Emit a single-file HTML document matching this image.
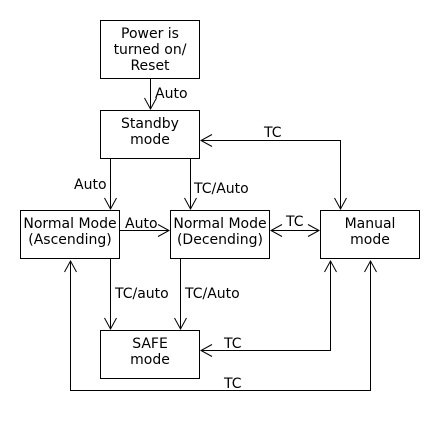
<!DOCTYPE html>
<html><head><meta charset="utf-8"><style>
html,body{margin:0;padding:0;background:#fff;}
svg{display:block;}
text{font-family:"DejaVu Sans","Liberation Sans",sans-serif;font-size:14px;fill:#000;}
</style></head><body>
<svg width="440" height="430" viewBox="0 0 440 430" xmlns="http://www.w3.org/2000/svg">
<g fill="#fff" stroke="#000" stroke-width="1">
<rect x="100.5" y="20.5" width="99" height="58"/>
<rect x="100.5" y="110.5" width="99" height="48"/>
<rect x="20.5" y="210.5" width="99" height="48"/>
<rect x="170.5" y="210.5" width="99" height="48"/>
<rect x="320.5" y="210.5" width="99" height="48"/>
<rect x="100.5" y="330.5" width="99" height="48"/>
</g>
<g fill="none" stroke="#000" stroke-width="1">
<path d="M150.5 79V109M144.5 98L150.5 109L156.5 98"/>
<path d="M110.5 159V209M104.5 198L110.5 209L116.5 198"/>
<path d="M190.5 159V209M184.5 198L190.5 209L196.5 198"/>
<path d="M120 230.5H169M158 224.5L169 230.5L158 236.5"/>
<path d="M271 230.5H319M282 224.5L271 230.5L282 236.5M308 224.5L319 230.5L308 236.5"/>
<path d="M201 140.5H340.5V209M212 134.5L201 140.5L212 146.5M334.5 198L340.5 209L346.5 198"/>
<path d="M110.5 259V329M104.5 318L110.5 329L116.5 318"/>
<path d="M180.5 259V329M174.5 318L180.5 329L186.5 318"/>
<path d="M201 350.5H330.5V261M212 344.5L201 350.5L212 356.5M324.5 272L330.5 261L336.5 272"/>
<path d="M70.5 261V390.5H370.5V261M64.5 272L70.5 261L76.5 272M364.5 272L370.5 261L376.5 272"/>
</g>
<g text-anchor="middle">
<text x="150" y="38">Power is</text>
<text x="150" y="54">turned on/</text>
<text x="150" y="70">Reset</text>
<text x="150" y="128">Standby</text>
<text x="150" y="144">mode</text>
<text x="70" y="228">Normal Mode</text>
<text x="70" y="244">(Ascending)</text>
<text x="220" y="228">Normal Mode</text>
<text x="220" y="244">(Decending)</text>
<text x="370" y="228">Manual</text>
<text x="370" y="244">mode</text>
<text x="150" y="348">SAFE</text>
<text x="150" y="364">mode</text>
</g>
<text x="155" y="98">Auto</text>
<text x="74" y="189">Auto</text>
<text x="194" y="193">TC/Auto</text>
<text x="125" y="228">Auto</text>
<text x="286" y="226">TC</text>
<text x="264" y="137">TC</text>
<text x="115" y="298">TC/auto</text>
<text x="185" y="298">TC/Auto</text>
<text x="224" y="348">TC</text>
<text x="224" y="388">TC</text>
</svg>
</body></html>
